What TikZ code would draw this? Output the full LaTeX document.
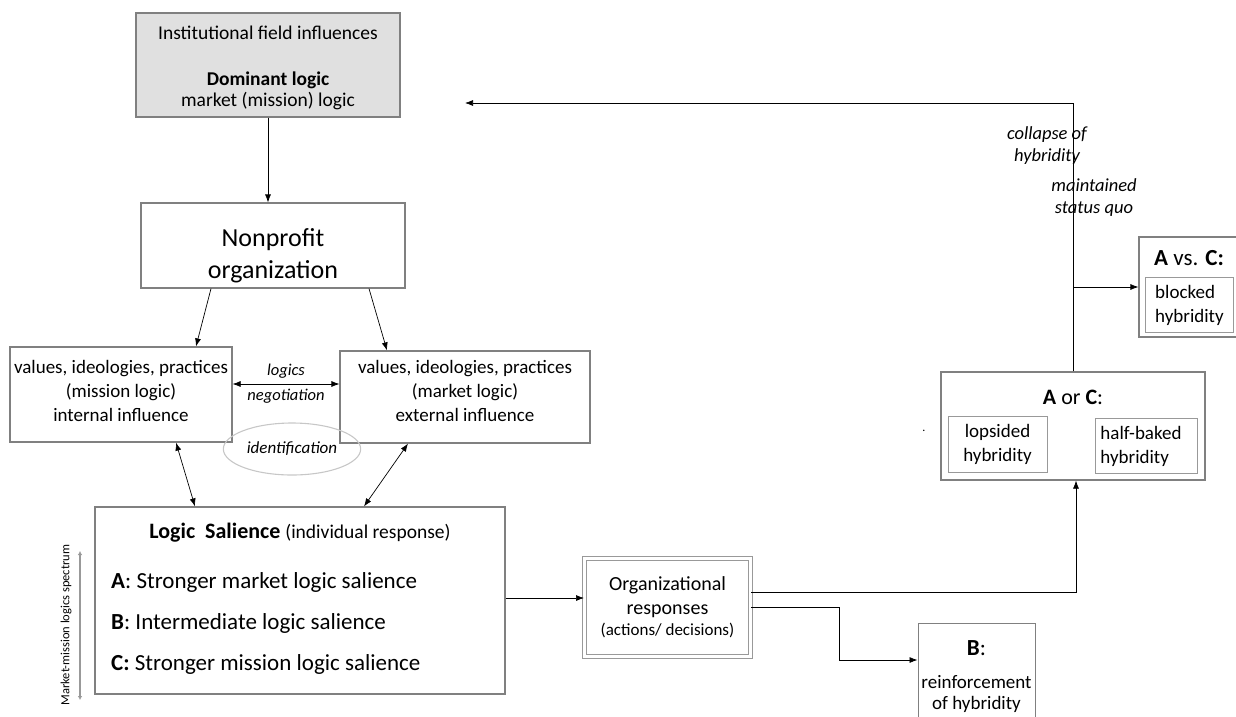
\documentclass[tikz,border=0pt]{standalone}
\usepackage{fontspec}
\setmainfont{Carlito}
\usepackage{tikz}
\usetikzlibrary{calc,arrows.meta,shapes.geometric}
\newcommand{\fsz}[2]{\fontsize{#1}{#2}\selectfont}
\tikzset{
  box/.style={draw=black!50, line width=1.2pt, inner sep=0pt},
  innerbox/.style={draw=black!40, line width=0.9pt, inner sep=0pt},
  txt/.style={align=center, inner sep=0pt, font=\fsz{19}{24}},
  link/.style={-{Latex[length=8pt,width=6pt]}, line width=0.7pt},
  twolink/.style={{Latex[length=8pt,width=6pt]}-{Latex[length=8pt,width=6pt]}, line width=0.7pt},
}

\begin{document}
\begin{tikzpicture}[x=1pt,y=-1pt]
        \useasboundingbox (0,0) rectangle (1236,716);
        % field and organization
        \node[box, fill=black!12, minimum width=264pt, minimum height=104pt] (inst) at (268,65) {};
        \node[txt, font=\fsz{19.5}{24}] (insttxt) at (268,33) {Institutional field influences};
        \node[txt, font=\fsz{19.5}{21}] (domtxt) at (268,91) {\textbf{Dominant logic}\\market (mission) logic};
        \node[box, minimum width=264pt, minimum height=85pt] (np) at (273,245.5) {};
        \node[txt, font=\fsz{26}{32}] (nptxt) at (273,256) {Nonprofit\\organization};
        \node[box, minimum width=222pt, minimum height=95pt] (mis) at (121,394.5) {};
        \node[txt] (mistxt) at (121,391) {values, ideologies, practices\\(mission logic)\\internal influence};
        \node[box, minimum width=250pt, minimum height=92pt] (mkt) at (465,397) {};
        \node[txt] (mkttxt) at (465,391) {values, ideologies, practices\\(market logic)\\external influence};
        \node[ellipse, draw=black!22, line width=1.1pt, minimum width=128pt, minimum height=52pt] (ident) at (292,449)
          {\fsz{17}{20}\itshape identification};
        % individual response
        \node[box, minimum width=410pt, minimum height=187pt] (sal) at (300,600.5) {};
        \node[txt] (saltxt) at (300,533) {\fsz{22}{26}\textbf{Logic\ \ Salience} \fsz{19.5}{24}(individual response)};
        \node[txt, anchor=west, font=\fsz{23}{27}] (sa) at (111,582) {\textbf{A}: Stronger market logic salience};
        \node[txt, anchor=west, font=\fsz{23}{27}] (sb) at (111,623) {\textbf{B}: Intermediate logic salience};
        \node[txt, anchor=west, font=\fsz{23}{27}] (sc) at (111,664) {\textbf{C:} Stronger mission logic salience};
        \coordinate (spt) at (80,551);
        \coordinate (spb) at (80,700);
        \draw[{Latex[length=4pt,width=4.5pt]}-{Latex[length=4pt,width=4.5pt]}, draw=black!40, line width=1.6pt] (spt) -- (spb);
        \node[txt, rotate=90, font=\fsz{12.5}{15}] (spec) at (66,625) {Market-mission logics spectrum};
        % organizational responses and outcomes
        \node[box, draw=black!40, double=white, double distance=2.5pt, line width=1pt, minimum width=166pt, minimum height=98pt] (org) at (667.5,607.5) {};
        \node[txt, font=\fsz{20}{24}] (orgtxt) at (667.5,597) {Organizational\\responses};
        \node[txt, font=\fsz{17}{20}] (acttxt) at (667.5,630) {(actions/ decisions)};
        \node[box, minimum width=264pt, minimum height=108pt] (aorc) at (1073,426) {};
        \node[txt, font=\fsz{22}{26}] (aorctxt) at (1073,397) {\textbf{A} or \textbf{C}:};
        \node[innerbox, minimum width=99pt, minimum height=56pt] (lop) at (997.5,444) {};
        \node[txt] (loptxt) at (997.5,444) {lopsided\\hybridity};
        \node[innerbox, minimum width=102pt, minimum height=55pt] (half) at (1146,445.5) {};
        \node[txt, align=left] (halftxt) at (1141,446) {half-baked\\hybridity};
        \node[txt, font=\fsz{12}{12}] (dot) at (924,431) {.};
        \node[box, minimum width=102pt, minimum height=100pt] (avc) at (1190,287) {};
        \node[txt, font=\fsz{23}{27}] (avctxt) at (1189,258) {\textbf{A} vs. \textbf{C:}};
        \node[innerbox, minimum width=88pt, minimum height=55pt] (blk) at (1189,304.5) {};
        \node[txt, align=left, anchor=west] (blktxt) at (1155,305) {blocked\\hybridity};
        \node[box, line width=1pt, minimum width=117pt, minimum height=110pt] (b) at (976.5,678) {};
        \node[txt, font=\fsz{23}{27}] (btxt) at (976.5,648) {\textbf{B}:};
        \node[txt, font=\fsz{19}{21}] (bsub) at (976.5,694) {reinforcement\\of hybridity};
        \coordinate (fb) at (465,103);
        \node[txt, font=\fsz{18.5}{22}, align=center] (coll) at (1047,146) {\itshape collapse of\\\itshape hybridity};
        \node[txt, font=\fsz{18.5}{22}, align=center] (stq) at (1094,198) {\itshape maintained\\\itshape status quo};
        % connectors
        \draw[link] (inst.south) -- (inst.south |- np.north);
        \draw[link] ([xshift=-62pt]np.south) -- ([xshift=75pt]mis.north);
        \draw[link] ([xshift=96pt]np.south) -- ([xshift=-78pt]mkt.north);
        \draw[twolink] ([yshift=10.5pt]mis.east) -- ([yshift=13pt]mkt.west)
          node[midway, above=2pt, font=\fsz{16.5}{18}\itshape] {logics}
          node[midway, below=1pt, font=\fsz{16.5}{18}\itshape] {negotiation};
        \draw[twolink] ([xshift=55pt]mis.south) -- ([xshift=-105pt]sal.north);
        \draw[twolink] ([xshift=-57pt]mkt.south) -- ([xshift=64pt]sal.north);
        \draw[link] (sal.east |- 0,598) -- (org.west |- 0,598);
        \draw[link] ([yshift=15pt]org.east) -| ([xshift=3pt]aorc.south);
        \draw[link] (org.east) -- ++(88,0) |- ([yshift=18pt]b.west);
        \draw[link] (aorc.north) |- (fb);
        \draw[link] (aorc.north |- avc.west) -- (avc.west);
\end{tikzpicture}
\end{document}
